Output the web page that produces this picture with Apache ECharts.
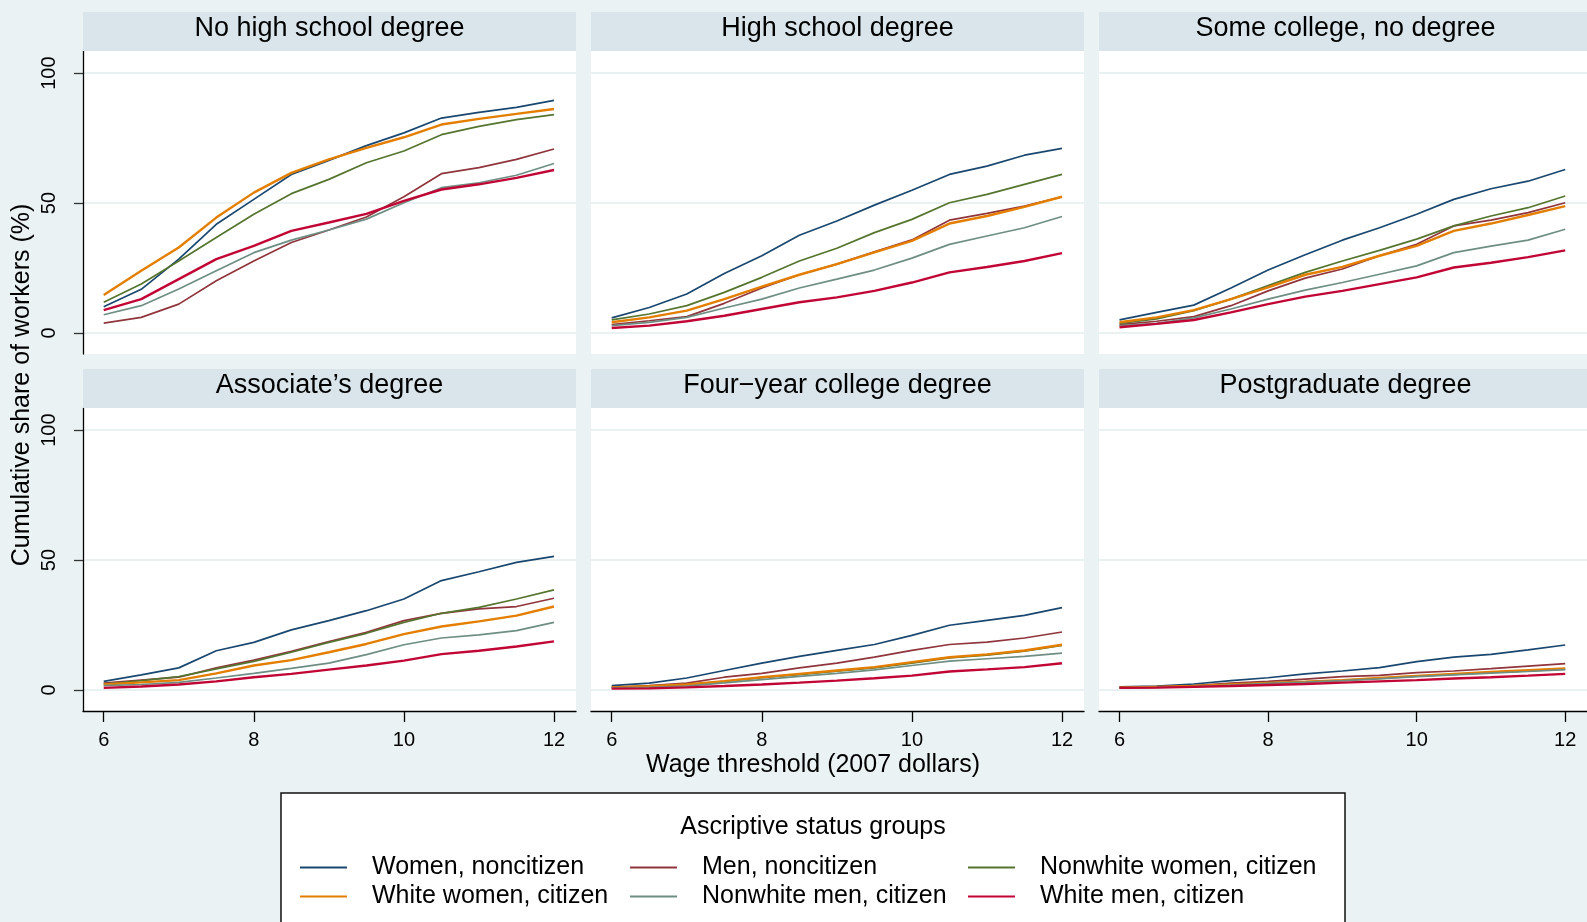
<!DOCTYPE html>
<html>
<head>
<meta charset="utf-8">
<title>Cumulative share of workers by wage threshold</title>
<script src="https://cdn.jsdelivr.net/npm/echarts@6/dist/echarts.min.js"></script>
<style>
  html, body { margin: 0; padding: 0; background: #eaf2f3; }
  #chart { width: 1587px; height: 922px; }
</style>
</head>
<body>
<div id="chart"></div>
<script>
// Wage thresholds (2007 dollars) at which the cumulative shares are read
const wageThresholds = [6, 6.5, 7, 7.5, 8, 8.5, 9, 9.5, 10, 10.5, 11, 11.5, 12];

// Ascriptive status groups, in plotting / legend order
const groupNames = [
  'Women, noncitizen',
  'Men, noncitizen',
  'Nonwhite women, citizen',
  'White women, citizen',
  'Nonwhite men, citizen',
  'White men, citizen'
];

const panelTitles = [
  'No high school degree',
  'High school degree',
  'Some college, no degree',
  'Associate\u2019s degree',
  'Four\u2212year college degree',
  'Postgraduate degree'
];

const xTickValues = [6, 8, 10, 12];
const yTickValues = [0, 50, 100];

// Cumulative share of workers (%) below each threshold; rows follow groupNames
const noHighSchool = [
  [10.1, 16.8, 28.4, 41.8, 51.4, 61.0, 66.4, 72.1, 77.0, 82.7, 84.9, 86.8, 89.5],
  [3.8, 6.0, 11.1, 20.1, 27.7, 34.8, 39.6, 44.6, 52.4, 61.3, 63.6, 66.8, 70.8],
  [11.8, 18.8, 27.7, 36.7, 45.7, 53.6, 59.1, 65.5, 70.0, 76.3, 79.5, 82.1, 84.0],
  [14.6, 23.9, 32.9, 44.4, 54.0, 61.6, 66.8, 71.2, 75.3, 80.2, 82.4, 84.3, 86.2],
  [7.0, 10.5, 16.9, 23.9, 30.9, 35.7, 39.6, 43.8, 50.1, 55.9, 57.8, 60.7, 65.2],
  [8.8, 13.0, 20.7, 28.4, 33.5, 39.3, 42.5, 45.8, 50.8, 55.2, 57.2, 59.7, 62.7]
];

const highSchool = [
  [5.8, 9.8, 15.0, 22.9, 29.7, 37.6, 43.1, 49.2, 54.9, 61.0, 64.2, 68.4, 71.0],
  [3.2, 4.7, 6.3, 11.4, 17.3, 22.4, 26.5, 31.2, 35.8, 43.4, 46.0, 48.8, 52.4],
  [5.0, 7.3, 10.5, 15.6, 21.4, 27.7, 32.6, 38.6, 43.7, 50.1, 53.3, 57.2, 61.0],
  [4.1, 6.0, 8.6, 13.0, 17.8, 22.4, 26.5, 31.0, 35.4, 42.1, 45.0, 48.5, 52.4],
  [2.8, 4.1, 6.0, 9.6, 13.0, 17.3, 20.7, 24.2, 28.8, 34.1, 37.3, 40.5, 44.8],
  [1.9, 2.8, 4.5, 6.6, 9.2, 11.8, 13.7, 16.2, 19.4, 23.3, 25.4, 27.7, 30.7]
];

const someCollege = [
  [5.0, 7.9, 10.7, 17.3, 24.2, 30.1, 35.7, 40.5, 45.7, 51.4, 55.5, 58.4, 62.9],
  [3.2, 4.5, 6.3, 10.5, 16.2, 21.1, 24.6, 29.7, 34.1, 41.2, 43.4, 46.3, 50.1],
  [3.7, 5.4, 8.6, 13.0, 18.2, 23.3, 27.7, 31.8, 36.1, 41.2, 45.0, 48.2, 52.7],
  [4.1, 6.0, 8.8, 13.0, 17.5, 22.4, 25.4, 29.7, 33.5, 39.3, 42.1, 45.4, 48.8],
  [2.8, 3.7, 5.8, 9.2, 13.0, 16.5, 19.4, 22.6, 25.8, 30.9, 33.4, 35.7, 39.9],
  [2.2, 3.5, 5.0, 7.9, 11.1, 14.0, 16.2, 18.8, 21.4, 25.2, 27.0, 29.2, 31.8]
];

const associate = [
  [3.3, 5.8, 8.5, 15.1, 18.3, 23.1, 26.7, 30.5, 35.0, 42.1, 45.5, 49.1, 51.4],
  [2.6, 3.8, 4.9, 8.5, 11.5, 14.9, 18.6, 22.2, 26.7, 29.5, 31.2, 32.1, 35.3],
  [2.3, 3.6, 5.1, 8.1, 11.0, 14.5, 18.3, 21.8, 26.0, 29.5, 31.8, 35.0, 38.5],
  [2.1, 2.9, 3.8, 6.4, 9.4, 11.5, 14.5, 17.7, 21.5, 24.4, 26.4, 28.6, 32.1],
  [1.7, 2.1, 2.9, 4.6, 6.4, 8.3, 10.3, 13.6, 17.4, 20.0, 21.2, 22.8, 26.0],
  [0.8, 1.3, 2.1, 3.3, 4.9, 6.2, 7.8, 9.4, 11.3, 13.8, 15.1, 16.7, 18.7]
];

const fourYear = [
  [1.7, 2.6, 4.6, 7.5, 10.3, 12.9, 15.2, 17.5, 21.0, 24.9, 26.8, 28.7, 31.7],
  [1.0, 1.7, 2.6, 4.9, 6.4, 8.5, 10.3, 12.6, 15.2, 17.5, 18.4, 20.0, 22.3],
  [1.0, 1.3, 2.0, 3.3, 4.7, 5.9, 7.2, 8.5, 10.3, 12.3, 13.4, 14.9, 17.1],
  [1.0, 1.4, 2.1, 3.4, 4.9, 6.2, 7.5, 8.8, 10.7, 12.6, 13.7, 15.2, 17.4],
  [0.8, 1.0, 1.5, 2.7, 4.0, 5.2, 6.4, 7.7, 9.4, 11.1, 12.0, 12.9, 14.2],
  [0.5, 0.6, 1.0, 1.5, 2.1, 2.8, 3.6, 4.5, 5.5, 7.1, 7.9, 8.8, 10.3]
];

const postgraduate = [
  [1.2, 1.5, 2.3, 3.6, 4.7, 6.2, 7.3, 8.6, 10.9, 12.6, 13.7, 15.4, 17.3],
  [1.0, 1.2, 1.7, 2.6, 3.3, 4.2, 5.1, 5.6, 6.7, 7.3, 8.2, 9.2, 10.1],
  [0.9, 1.1, 1.4, 2.0, 2.6, 3.1, 3.7, 4.5, 5.3, 6.0, 6.7, 7.3, 8.0],
  [0.9, 1.2, 1.5, 2.1, 2.7, 3.2, 3.8, 4.6, 5.4, 6.2, 6.9, 7.6, 8.3],
  [0.8, 1.0, 1.3, 1.9, 2.5, 3.0, 3.6, 4.3, 5.1, 5.8, 6.5, 7.1, 7.8],
  [0.8, 0.9, 1.2, 1.5, 1.9, 2.3, 2.8, 3.3, 3.8, 4.4, 4.9, 5.5, 6.2]
];

const panelData = [noHighSchool, highSchool, someCollege, associate, fourYear, postgraduate];

// ---- styling ----
const FONT = '"Liberation Sans", Arial, Helvetica, sans-serif';
const groupColors = ['#1a476f', '#90353b', '#55752f', '#e37e00', '#6e8e84', '#c10534'];
const groupWidths = [1.7, 1.7, 1.7, 2.4, 1.7, 2.4];
const colLeft = [83, 591, 1099];
const rowTop = [51, 408];
const panelW = 493;
const panelH = 303;
const stripH = 39;

const grids = [];
const xAxes = [];
const yAxes = [];
const series = [];
const graphics = [];

panelData.forEach((rows, p) => {
  const col = p % 3;
  const row = Math.floor(p / 3);
  grids.push({
    left: colLeft[col], top: rowTop[row], width: panelW, height: panelH,
    show: true, backgroundColor: '#ffffff', borderWidth: 0
  });
  const bottomRow = row === 1;
  const firstCol = col === 0;
  xAxes.push({
    gridIndex: p, type: 'value', min: 5.724, max: 12.293,
    axisLine: { show: bottomRow, onZero: false, lineStyle: { color: '#000', width: 1.3 } },
    axisTick: { show: bottomRow, length: 11, customValues: xTickValues, lineStyle: { color: '#000', width: 1.3 } },
    axisLabel: { show: bottomRow, customValues: xTickValues, fontSize: 20, margin: 19, color: '#000', fontFamily: FONT },
    splitLine: { show: false }
  });
  yAxes.push({
    gridIndex: p, type: 'value', min: -8.1, max: 108.5,
    axisLine: { show: firstCol, onZero: false, lineStyle: { color: '#000', width: 1.3 } },
    axisTick: { show: firstCol, length: 9, customValues: yTickValues, lineStyle: { color: '#333', width: 1.3 } },
    axisLabel: { show: firstCol, customValues: yTickValues, rotate: 90, fontSize: 20, margin: 24, color: '#000', fontFamily: FONT },
    splitLine: { show: true, lineStyle: { color: '#e3ecef', width: 1.6 } }
  });
  rows.forEach((vals, g) => {
    series.push({
      type: 'line', name: groupNames[g], xAxisIndex: p, yAxisIndex: p,
      data: wageThresholds.map((x, i) => [x, vals[i]]),
      symbol: 'none', showSymbol: false, smooth: false,
      lineStyle: { color: groupColors[g], width: groupWidths[g] },
      itemStyle: { color: groupColors[g] },
      emphasis: { disabled: true }, silent: true
    });
  });
  // panel title strip
  graphics.push({
    type: 'rect', z: 1,
    shape: { x: colLeft[col], y: rowTop[row] - stripH, width: panelW, height: stripH },
    style: { fill: '#d9e5ea' }
  });
  graphics.push({
    type: 'text', z: 2,
    x: colLeft[col] + panelW / 2, y: rowTop[row] - stripH / 2 - 3,
    style: { text: panelTitles[p], font: '27px ' + FONT, fill: '#000', align: 'center', verticalAlign: 'middle' }
  });
});

// axis titles
graphics.push({
  type: 'text', z: 2, x: 22, y: 385, rotation: Math.PI / 2,
  style: { text: 'Cumulative share of workers (%)', font: '25px ' + FONT, fill: '#000', align: 'center', verticalAlign: 'middle' }
});
graphics.push({
  type: 'text', z: 2, x: 813, y: 765,
  style: { text: 'Wage threshold (2007 dollars)', font: '25px ' + FONT, fill: '#000', align: 'center', verticalAlign: 'middle' }
});

// legend frame and heading
graphics.push({
  type: 'rect', z: 1,
  shape: { x: 281, y: 793, width: 1064, height: 200 },
  style: { fill: '#ffffff', stroke: '#111', lineWidth: 1.5 }
});
graphics.push({
  type: 'text', z: 2, x: 813, y: 827,
  style: { text: 'Ascriptive status groups', font: '25px ' + FONT, fill: '#000', align: 'center', verticalAlign: 'middle' }
});

const legendLeft = [300, 630, 968];
const legends = legendLeft.map((left, c) => ({
  data: [groupNames[c], groupNames[c + 3]],
  orient: 'vertical', left: left, top: 855, padding: 0,
  itemWidth: 47, itemHeight: 2, itemGap: 4, icon: 'rect',
  selectedMode: false, z: 5,
  textStyle: { fontSize: 25, lineHeight: 25, color: '#000', fontFamily: FONT, padding: [0, 0, 0, 20] }
}));

const chart = echarts.init(document.getElementById('chart'), null, { renderer: 'canvas' });
chart.setOption({
  animation: false,
  backgroundColor: '#eaf2f3',
  grid: grids,
  xAxis: xAxes,
  yAxis: yAxes,
  legend: legends,
  series: series,
  graphic: graphics
});
</script>
</body>
</html>
